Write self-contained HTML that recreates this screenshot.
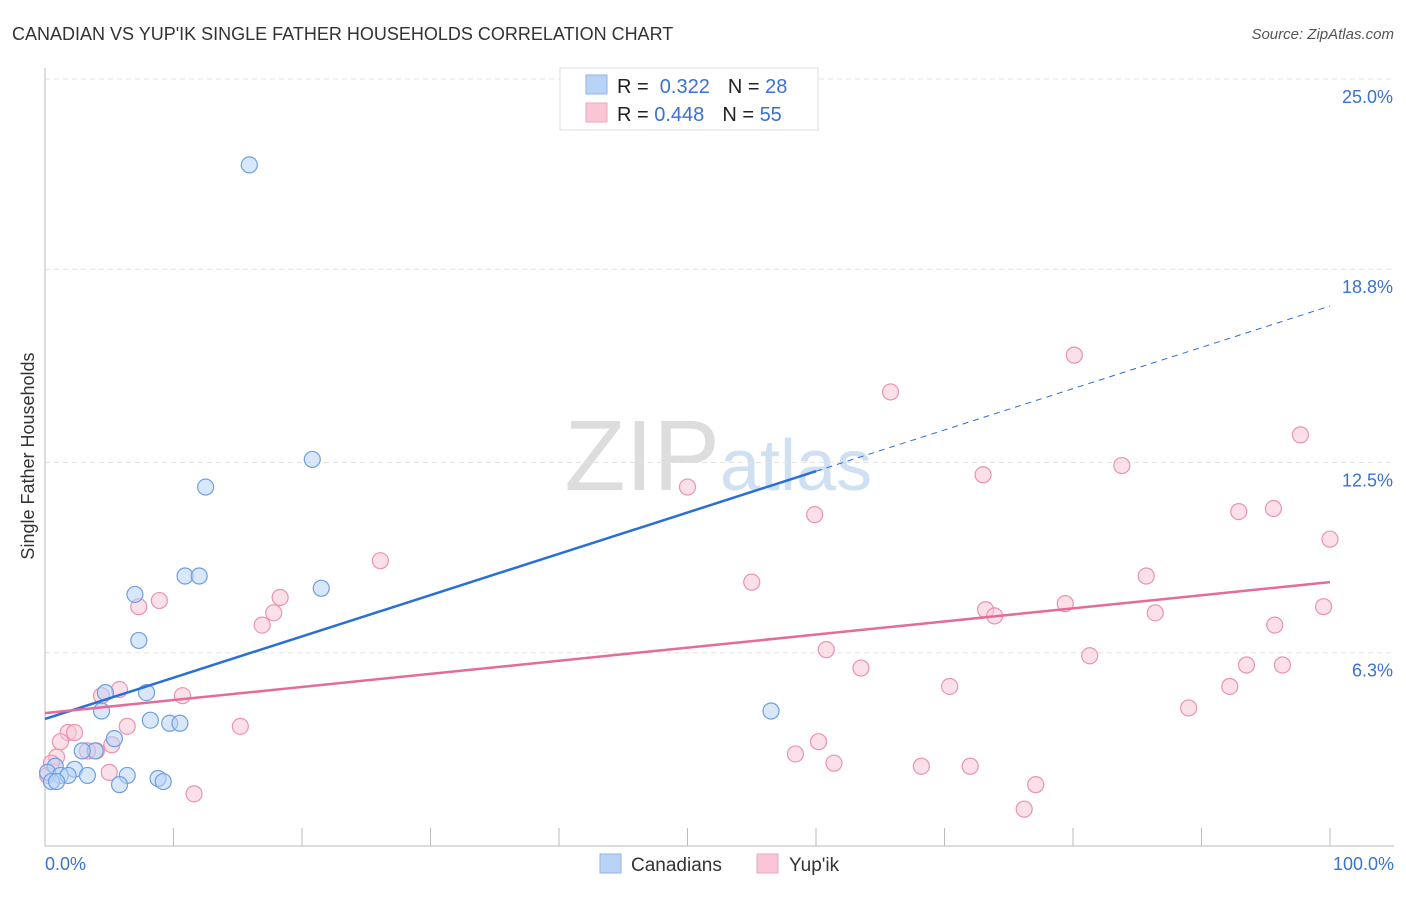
<!DOCTYPE html>
<html><head><meta charset="utf-8"><style>
body{margin:0;background:#fff;font-family:"Liberation Sans",sans-serif;}
svg text{font-family:"Liberation Sans",sans-serif;}
</style></head><body>
<svg id="c" width="1406" height="892" xmlns="http://www.w3.org/2000/svg">
<text x="12" y="40" font-size="18" fill="#333">CANADIAN VS YUP'IK SINGLE FATHER HOUSEHOLDS CORRELATION CHART</text>
<text x="1394" y="39" font-size="15" fill="#555" font-style="italic" text-anchor="end">Source: ZipAtlas.com</text>
<text x="720" y="490" font-size="100" fill="#ddd" text-anchor="end" font-family="Liberation Serif">ZIP</text>
<text x="720" y="490" font-size="72" fill="#cfe0f3">atlas</text>
<g id="grid"></g><g id="axes"></g><g id="pts"></g><g id="trend"></g>
<text transform="translate(34,456) rotate(-90)" font-size="18" fill="#333" text-anchor="middle">Single Father Households</text>
<g>
<rect x="560" y="68" width="258" height="62" fill="#fff" stroke="#ddd"/>
<rect x="586" y="75" width="21" height="19" fill="#b8d3f5" stroke="#8fb5e8"/>
<rect x="586" y="103" width="21" height="19" fill="#f9c6d6" stroke="#eea5bc"/>
<text x="617" y="93" font-size="20" fill="#222">R = <tspan fill="#3a72d0">&#160;0.322</tspan><tspan dx="18">N = </tspan><tspan fill="#3a72d0">28</tspan></text>
<text x="617" y="121" font-size="20" fill="#222">R = <tspan fill="#3a72d0">0.448</tspan><tspan dx="18">N = </tspan><tspan fill="#3a72d0">55</tspan></text>
</g>
<g>
<rect x="600" y="854" width="21" height="19" fill="#b8d3f5" stroke="#8fb5e8"/>
<text x="631" y="871" font-size="19" fill="#333">Canadians</text>
<rect x="757" y="854" width="21" height="19" fill="#f9c6d6" stroke="#eea5bc"/>
<text x="789" y="871" font-size="19" fill="#333">Yup'ik</text>
</g>
</svg>
<script>
const yTicks=[6.3,12.5,18.8,25.0];
const yTickLabels=["6.3%","12.5%","18.8%","25.0%"];
const xTickLabels=["0.0%","100.0%"];
const blueX=[15.9,20.8,12.5,10.9,12.0,21.5,7.0,7.3,4.7,7.9,4.4,8.2,9.7,10.5,5.4,3.9,2.9,0.8,2.3,6.4,0.2,1.2,1.8,3.3,0.5,0.9,5.8,8.8,9.2,56.5];
const blueY=[22.2,12.6,11.7,8.8,8.8,8.4,8.2,6.7,5.0,5.0,4.4,4.1,4.0,4.0,3.5,3.1,3.1,2.6,2.5,2.3,2.4,2.3,2.3,2.3,2.1,2.1,2.0,2.2,2.1,4.4];
const pinkX=[80.1,65.8,97.7,83.8,73.0,50.0,59.9,92.9,95.6,100.0,26.1,55.0,85.7,8.9,7.3,18.3,17.8,16.9,73.2,73.9,79.4,86.4,99.5,95.7,60.8,81.3,63.5,93.5,96.3,70.4,92.2,5.8,4.4,10.7,89.0,6.4,15.2,1.8,2.3,1.2,5.2,4.0,3.3,0.9,60.2,58.4,61.4,68.2,72.0,5.0,77.1,76.2,11.6,0.2,0.5];
const pinkY=[16.0,14.8,13.4,12.4,12.1,11.7,10.8,10.9,11.0,10.0,9.3,8.6,8.8,8.0,7.8,8.1,7.6,7.2,7.7,7.5,7.9,7.6,7.8,7.2,6.4,6.2,5.8,5.9,5.9,5.2,5.2,5.1,4.9,4.9,4.5,3.9,3.9,3.7,3.7,3.4,3.3,3.1,3.1,2.9,3.4,3.0,2.7,2.6,2.6,2.4,2.0,1.2,1.7,2.3,2.7];
const blueTrend=[4.14,17.6];const pinkTrend=[4.33,8.6];
const NS="http://www.w3.org/2000/svg";
const X=v=>45+v*12.85, Y=v=>846-v*30.68;
function mk(t,a,p){const e=document.createElementNS(NS,t);for(const k in a)e.setAttribute(k,a[k]);p.appendChild(e);return e;}
const grid=document.getElementById('grid'),axes=document.getElementById('axes'),pts=document.getElementById('pts'),tr=document.getElementById('trend');
yTicks.forEach((t,i)=>{
 const l=mk('line',{x1:45,x2:1394,y1:Y(t),y2:Y(t),stroke:'#e3e3e3','stroke-dasharray':'5,4'},grid);
 
 
 const tx=mk('text',{x:1393,y:Y(t)+24,'font-size':18,fill:'#3a72d0','text-anchor':'end'},axes);tx.textContent=yTickLabels[i];
 
 
});
const ax=mk('line',{x1:45,x2:1394,y1:846,y2:846,stroke:'#bbb'},axes);


const ay=mk('line',{x1:45,x2:45,y1:68,y2:846,stroke:'#bbb'},axes);


for(let i=0;i<=10;i++){const t=mk('line',{x1:X(i*10),x2:X(i*10),y1:828,y2:846,stroke:'#bbb'},axes);
 
 }
[[0,'start',45],[100,'end',1394]].forEach((d,i)=>{const t=mk('text',{x:d[2],y:870,'font-size':18,fill:'#3a72d0','text-anchor':d[1]},axes);t.textContent=xTickLabels[i];
 
 });
function dots(xs,ys,f,s,n){xs.forEach((x,i)=>{const c=mk('circle',{cx:X(x),cy:Y(ys[i]),r:8,fill:f,'fill-opacity':0.55,stroke:s,'stroke-width':1.2},pts);
 
 });}
dots(pinkX,pinkY,'#f9c6d6','#e993b0','yupik-point');
dots(blueX,blueY,'#b8d3f5','#6e9fe0','canadian-point');
const bAt=x=>blueTrend[0]+(blueTrend[1]-blueTrend[0])*x/100;
const b1=mk('line',{x1:X(0),y1:Y(bAt(0)),x2:X(60),y2:Y(bAt(60)),stroke:'#2a6fd6','stroke-width':2.5},tr);


const b2=mk('line',{x1:X(60),y1:Y(bAt(60)),x2:X(100),y2:Y(bAt(100)),stroke:'#2a6fd6','stroke-width':1,'stroke-dasharray':'6,5'},tr);


const p1=mk('line',{x1:X(0),y1:Y(pinkTrend[0]),x2:X(100),y2:Y(pinkTrend[1]),stroke:'#e56b9a','stroke-width':2.5},tr);


</script>
</body></html>
